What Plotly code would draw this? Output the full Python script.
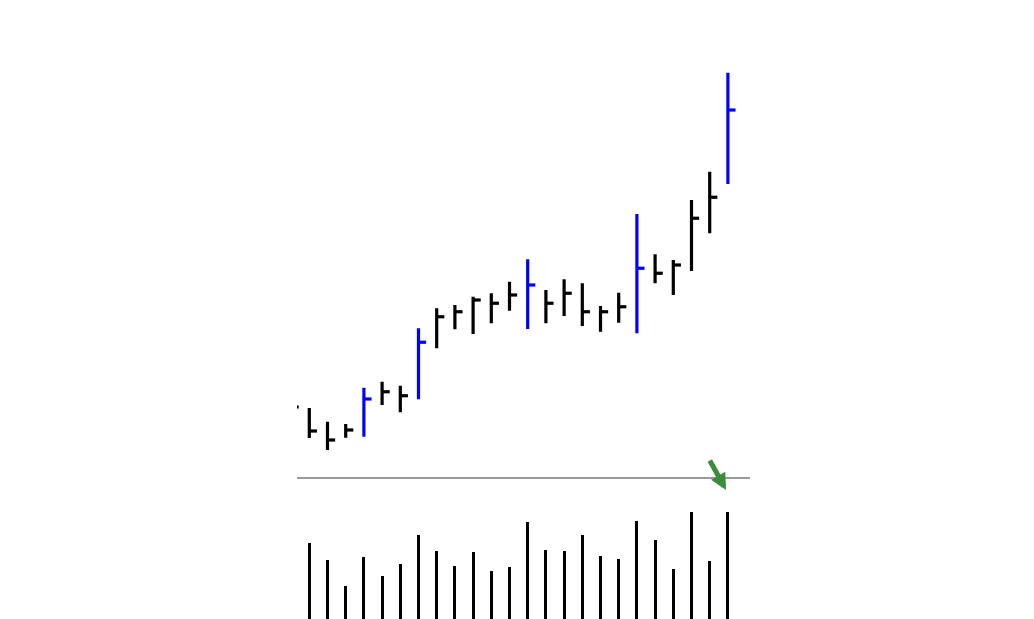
import plotly.graph_objects as go

# ---- data ----
days = list(range(-1, 24))
high = [12.0, 11.68, 11.13, 11.04, 12.49, 12.73, 12.57, 14.87, 15.67, 15.8, 16.13, 16.27, 16.73,
        17.63, 16.4, 16.83, 16.67, 15.76, 16.29, 19.44, 17.83, 17.6, 20.0, 21.13, 25.09]
low = [11.0, 10.48, 10.0, 10.49, 10.53, 11.8, 11.51, 12.03, 14.07, 14.83, 14.64, 15.07, 15.57,
       14.84, 15.07, 15.36, 14.96, 14.73, 15.09, 14.67, 16.67, 16.2, 17.16, 18.67, 20.64]
close = [11.72, 10.76, 10.4, 10.8, 12.04, 12.33, 12.17, 14.31, 15.33, 15.53, 16.0, 15.87, 16.2,
         16.6, 15.87, 16.27, 15.53, 15.53, 15.73, 17.27, 17.07, 17.4, 19.27, 20.11, 23.6]
highlight = [False, False, False, False, True, False, False, True, False, False, False, False, False,
             True, False, False, False, False, False, True, False, False, False, False, True]
vol_days = list(range(0, 24))
volume = [9670, 8000, 5430, 8330, 6400, 7630, 10500, 8900, 7400, 8800, 6870, 7300,
          11770, 9000, 8900, 10500, 8430, 8100, 11930, 10000, 7130, 12800, 7900, 12800]

TICK = 0.42


def bar_path(sel):
    xs, ys = [], []
    for d, h, l, c, s in zip(days, high, low, close, highlight):
        if s != sel:
            continue
        xs += [d, d, None, d, d + TICK, None]
        ys += [h, l, None, c, c, None]
    return xs, ys


fig = go.Figure()
bx, by = bar_path(False)
fig.add_trace(go.Scatter(x=bx, y=by, mode="lines", line=dict(color="#000000", width=3.2),
                         hoverinfo="skip", showlegend=False, xaxis="x", yaxis="y"))
hx, hy = bar_path(True)
fig.add_trace(go.Scatter(x=hx, y=hy, mode="lines", line=dict(color="#0000ff", width=3.2),
                         hoverinfo="skip", showlegend=False, xaxis="x", yaxis="y"))
fig.add_trace(go.Bar(x=vol_days, y=volume, width=0.16, marker=dict(color="#000000", line=dict(width=0)),
                     showlegend=False, xaxis="x2", yaxis="y2"))

W, H = 1034, 619
xdom = [297 / W, 750 / W]
split = 1 - 477 / H
xr = [(297 - 309.3) / 18.2, (750 - 309.3) / 18.2]

fig.update_layout(
    width=W, height=H,
    margin=dict(l=0, r=0, t=0, b=0),
    paper_bgcolor="white", plot_bgcolor="white",
    xaxis=dict(domain=xdom, range=xr, showgrid=False, zeroline=False, showticklabels=False,
               ticks="", showline=True, linecolor="#9a9a9a", linewidth=1.5, anchor="y"),
    yaxis=dict(domain=[split, 1], range=[10 + (450 - 477) / 25, 10 + 450 / 25], showgrid=False,
               zeroline=False, showticklabels=False, ticks="", anchor="x"),
    xaxis2=dict(domain=xdom, range=xr, showgrid=False, zeroline=False, showticklabels=False,
                ticks="", anchor="y2", matches="x"),
    yaxis2=dict(domain=[0, split], range=[(640 - 619) * 100, (640 - 477) * 100], showgrid=False,
                zeroline=False, showticklabels=False, ticks="", anchor="x2"),
    bargap=0,
    annotations=[dict(x=(726 - 309.3) / 18.2, xref="x", y=1 - 490 / H, yref="paper",
                      ax=-17, ay=-31, text="", showarrow=True, arrowcolor="#3d8b3d",
                      arrowwidth=5, arrowhead=2, arrowsize=0.65)],
)

fig.write_html("out.html", config={"displayModeBar": False},
               post_script="document.body.style.margin='0';document.body.style.overflow='hidden';")
